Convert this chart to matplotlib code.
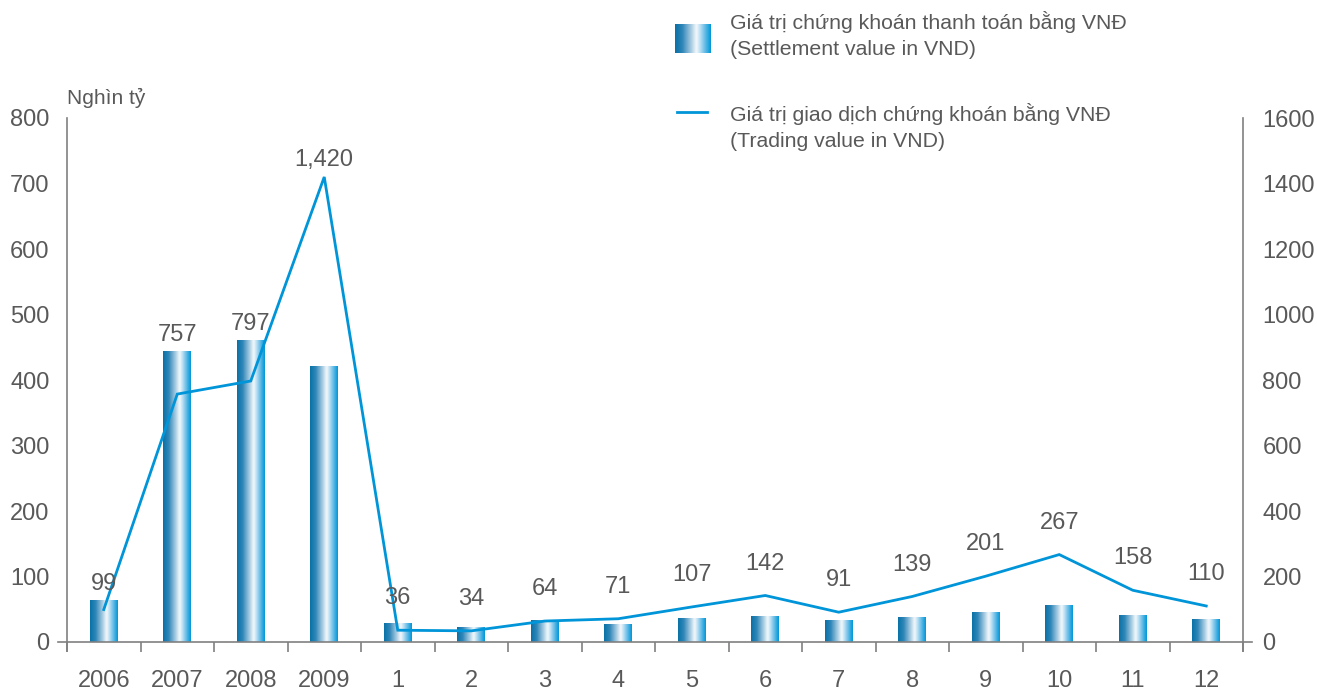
import numpy as np
import matplotlib
matplotlib.use('Agg')
import matplotlib.pyplot as plt
from matplotlib.colors import LinearSegmentedColormap
from matplotlib.lines import Line2D

# Data
categories = ['2006', '2007', '2008', '2009', '1', '2', '3', '4', '5', '6', '7', '8', '9', '10', '11', '12']
settlement = [63, 444, 460, 421, 29, 22, 33, 26, 36, 39, 33, 38, 45, 55, 40, 34]      # left axis, bars
trading = [99, 757, 797, 1420, 36, 34, 64, 71, 107, 142, 91, 139, 201, 267, 158, 110]  # right axis, line
trade_labels = ['99', '757', '797', '1,420', '36', '34', '64', '71', '107', '142', '91', '139', '201', '267', '158', '110']

legend_bar = 'Giá trị chứng khoán thanh toán bằng VNĐ\n(Settlement value in VND)'
legend_line = 'Giá trị giao dịch chứng khoán bằng VNĐ\n(Trading value in VND)'

plt.rcParams['font.family'] = ['Liberation Sans', 'DejaVu Sans']
txt = '#595959'
axc = '#808080'
blue = '#0095d8'
fs = 17

grad = LinearSegmentedColormap.from_list('bar', [
    (0.0, '#0a72a8'), (0.2, '#2f86b8'), (0.45, '#a9cde2'),
    (0.6, '#f5f9fc'), (0.78, '#8ccbec'), (1.0, '#0097d8')])
gimg = np.linspace(0, 1, 64).reshape(1, -1)

fig = plt.figure(figsize=(13.17, 6.91), dpi=100)
ax = fig.add_axes([67 / 1317, 1 - 642 / 691, (1243 - 67) / 1317, (642 - 118) / 691])
ax2 = ax.twinx()

x = np.arange(len(categories))
bw = 0.38
for xi, h in zip(x, settlement):
    ax.imshow(gimg, cmap=grad, aspect='auto', extent=[xi - bw / 2, xi + bw / 2, 0, h],
              interpolation='bicubic', zorder=2)

ax.set_xlim(-0.5, len(categories) - 0.5)
ax.set_ylim(0, 800)
ax2.set_ylim(0, 1600)

ax2.plot(x, trading, color=blue, lw=2.0, solid_joinstyle='miter', zorder=3)

# value labels
for i, (v, s) in enumerate(zip(trading, trade_labels)):
    if i < 4:
        base = max(v, settlement[i] * 2)
        off = 4
    else:
        base = v
        off = 15
    ax2.annotate(s, (x[i], base), xytext=(0, off), textcoords='offset points',
                 ha='center', va='bottom', fontsize=fs, color=txt)

# axes styling
for a in (ax, ax2):
    a.spines['top'].set_visible(False)
    for sp in ('left', 'right', 'bottom'):
        a.spines[sp].set_color(axc)
        a.spines[sp].set_linewidth(1.2)
ax.spines['right'].set_visible(False)
ax2.spines['left'].set_visible(False)
ax2.spines['bottom'].set_visible(False)
ax.spines['left'].set_bounds(-13, 800)
ax2.spines['right'].set_bounds(-26, 1600)
ax.spines['bottom'].set_bounds(-0.62, len(categories) - 0.38)

ax.set_yticks(np.arange(0, 801, 100))
ax2.set_yticks(np.arange(0, 1601, 200))
ax.tick_params(axis='y', length=0, pad=12.5, labelsize=fs, labelcolor=txt)
ax2.tick_params(axis='y', length=0, pad=14, labelsize=fs, labelcolor=txt)

ax.set_xticks(x)
ax.set_xticklabels(categories)
ax.set_xticks(np.arange(-0.5, len(categories)), minor=True)
ax.tick_params(axis='x', which='major', length=0, pad=20.5, labelsize=fs, labelcolor=txt)
ax.tick_params(axis='x', which='minor', length=7, width=1.2, color=axc)

ax.text(0.0, 1.02, 'Nghìn tỷ', transform=ax.transAxes, ha='left', va='bottom',
        fontsize=15, color=txt)

# legend drawn by hand
sw = fig.add_axes([675 / 1317, 1 - 53 / 691, 35 / 1317, 29 / 691])
sw.imshow(gimg, cmap=grad, aspect='auto', interpolation='bicubic')
sw.axis('off')
fig.add_artist(Line2D([677 / 1317, 707 / 1317], [1 - 112 / 691, 1 - 112 / 691],
                      color=blue, lw=2.0, transform=fig.transFigure))
fig.text(730 / 1317, 1 - 35 / 691, legend_bar, ha='left', va='center', fontsize=15.3,
         color=txt, linespacing=1.45)
fig.text(730 / 1317, 1 - 127 / 691, legend_line, ha='left', va='center', fontsize=15.3,
         color=txt, linespacing=1.45)

fig.savefig('out.png', dpi=100)
